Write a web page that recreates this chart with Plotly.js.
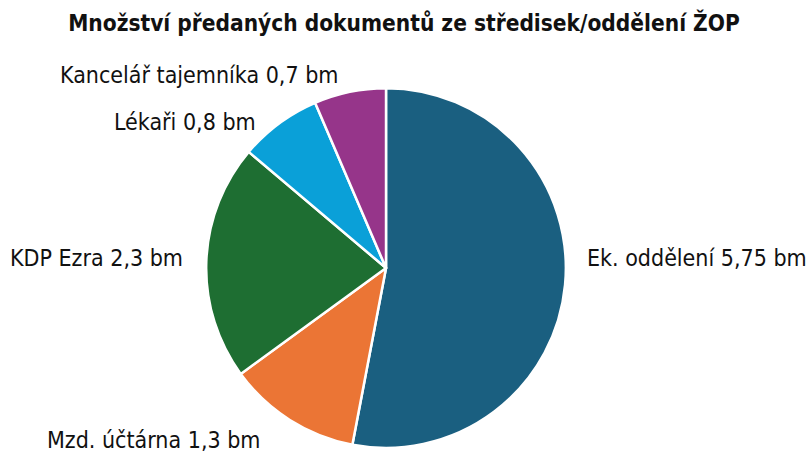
<!DOCTYPE html>
<html>
<head>
<meta charset="utf-8">
<script src="https://cdn.plot.ly/plotly-3.0.1.min.js"></script>
<style>html,body{margin:0;padding:0;background:#fff;}#chart{width:808px;height:457px;}</style>
</head>
<body>
<div id="chart"></div>
<script>
const categories = ["Ek. oddělení", "Mzd. účtárna", "KDP Ezra", "Lékaři", "Kancelář tajemníka"];
const values = [5.75, 1.3, 2.3, 0.8, 0.7];
const colors = ["#1a5f80", "#eb7535", "#1e6e32", "#0aa0d8", "#96358a"];
const titleText = "Množství předaných dokumentů ze středisek/oddělení ŽOP";
const FONT = "'DejaVu Sans Condensed', 'Liberation Sans Narrow', sans-serif";

// label placement (paper coordinates) – layout only
const labelPos = [
  {x: 0.724, y: 0.4354, xanchor: 'left'},
  {x: 0.0557, y: 0.0372, xanchor: 'left'},
  {x: 0.0099, y: 0.4354, xanchor: 'left'},
  {x: 0.3193, y: 0.733, xanchor: 'right'},
  {x: 0.4208, y: 0.836, xanchor: 'right'}
];

const fmt = v => String(v).replace('.', ',');

const trace = {
  type: 'pie',
  labels: categories,
  values: values,
  sort: false,
  direction: 'clockwise',
  rotation: 0,
  marker: {colors: colors, line: {color: '#ffffff', width: 2.5}},
  textinfo: 'none',
  domain: {x: [0.255, 0.7005], y: [0.02, 0.807]},
  hoverinfo: 'none',
  showlegend: false
};

const annotations = categories.map((c, i) => ({
  xref: 'paper', yref: 'paper',
  x: labelPos[i].x, y: labelPos[i].y,
  xanchor: labelPos[i].xanchor, yanchor: 'middle',
  text: c + ' ' + fmt(values[i]) + ' bm',
  showarrow: false,
  font: {family: FONT, size: 23, color: '#111111'}
}));

const layout = {
  width: 808, height: 457,
  margin: {l: 0, r: 0, t: 0, b: 0},
  separators: ', ',
  paper_bgcolor: '#ffffff',
  title: {text: '<b>' + titleText + '</b>', x: 0.5, xanchor: 'center', y: 0.95, yanchor: 'middle',
          font: {family: FONT, size: 22.5, color: '#111111'}},
  annotations: annotations,
  showlegend: false
};

Plotly.newPlot('chart', [trace], layout, {displayModeBar: false, staticPlot: true});
</script>
</body>
</html>
